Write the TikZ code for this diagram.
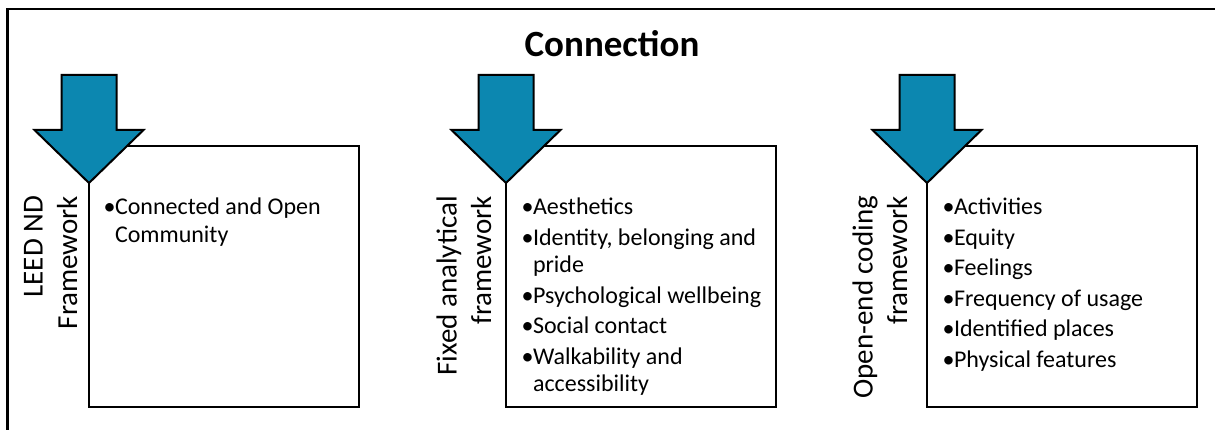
\documentclass[tikz,border=0pt]{standalone}
\usepackage{fontspec}
\setmainfont{Carlito}
\definecolor{arrowteal}{RGB}{12,135,176}
\tikzset{
  frame/.style={draw=black, line width=2.5pt},
  listbox/.style={draw=black, line width=2.6pt, fill=white, inner sep=0pt, outer sep=0pt, anchor=north west, minimum width=270pt, minimum height=261pt},
  bigarrow/.style={draw=black, line width=2pt, fill=arrowteal, line join=miter},
  itemlist/.style={anchor=base west, inner sep=0pt, outer sep=0pt, font=\fontsize{24}{27.2}\selectfont},
  sidelabel/.style={anchor=base east, rotate=90, inner sep=0pt, outer sep=0pt, align=right, font=\fontsize{29}{34.5}\selectfont},
  titletext/.style={font=\fontsize{37}{44}\selectfont\bfseries, inner sep=0pt, anchor=base},
  downarrow/.pic={\draw[bigarrow] (-27.5,-108) -- (27.5,-108) -- (27.5,-53) -- (54.5,-53) -- (0,0) -- (-54.5,-53) -- (-27.5,-53) -- cycle;}
}
\newcommand{\blist}[1]{\vtop{\hsize=300pt\parindent=0pt\parskip=0pt\rightskip=0pt plus 1fil\relax #1\par}}
\newcommand{\firstbitem}[1]{\hangindent=11.5pt\hangafter=1\noindent\makebox[11.5pt][l]{•}#1}
\newcommand{\bitem}[1]{\par\vskip3.3pt\firstbitem{#1}}
\begin{document}
\begin{tikzpicture}[x=1pt,y=-1pt]
\path[use as bounding box] (0,0) rectangle (1215,430);
\draw[frame] (7.5,9) rectangle (1240,460);
\node[titletext] (title) at (612,57) {Connection};
% boxes
\node[listbox] (box1) at (89,146) {};
\node[listbox] (box2) at (506,146) {};
\node[listbox] (box3) at (927,146) {};
% arrows
\pic at (89,183) {downarrow};
\pic at (506,183) {downarrow};
\pic at (927,183) {downarrow};
% side labels (anchor = baseline of the last line)
\node[sidelabel] (lab1) at (77,196) {LEED ND\\Framework};
\node[sidelabel] (lab2) at (491,196) {Fixed analytical\\framework};
\node[sidelabel] (lab3) at (907,196) {Open-end coding\\framework};
% lists
\node[itemlist] (list1) at (103.5,215) {\blist{%
  \firstbitem{Connected and Open\newline Community}}};
\node[itemlist] (list2) at (521.5,215) {\blist{%
  \firstbitem{Aesthetics}%
  \bitem{Identity, belonging and\newline pride}%
  \bitem{Psychological wellbeing}%
  \bitem{Social contact}%
  \bitem{Walkability and\newline accessibility}}};
\node[itemlist] (list3) at (942.5,215) {\blist{%
  \firstbitem{Activities}%
  \bitem{Equity}%
  \bitem{Feelings}%
  \bitem{Frequency of usage}%
  \bitem{Identified places}%
  \bitem{Physical features}}};
\end{tikzpicture}
\end{document}
